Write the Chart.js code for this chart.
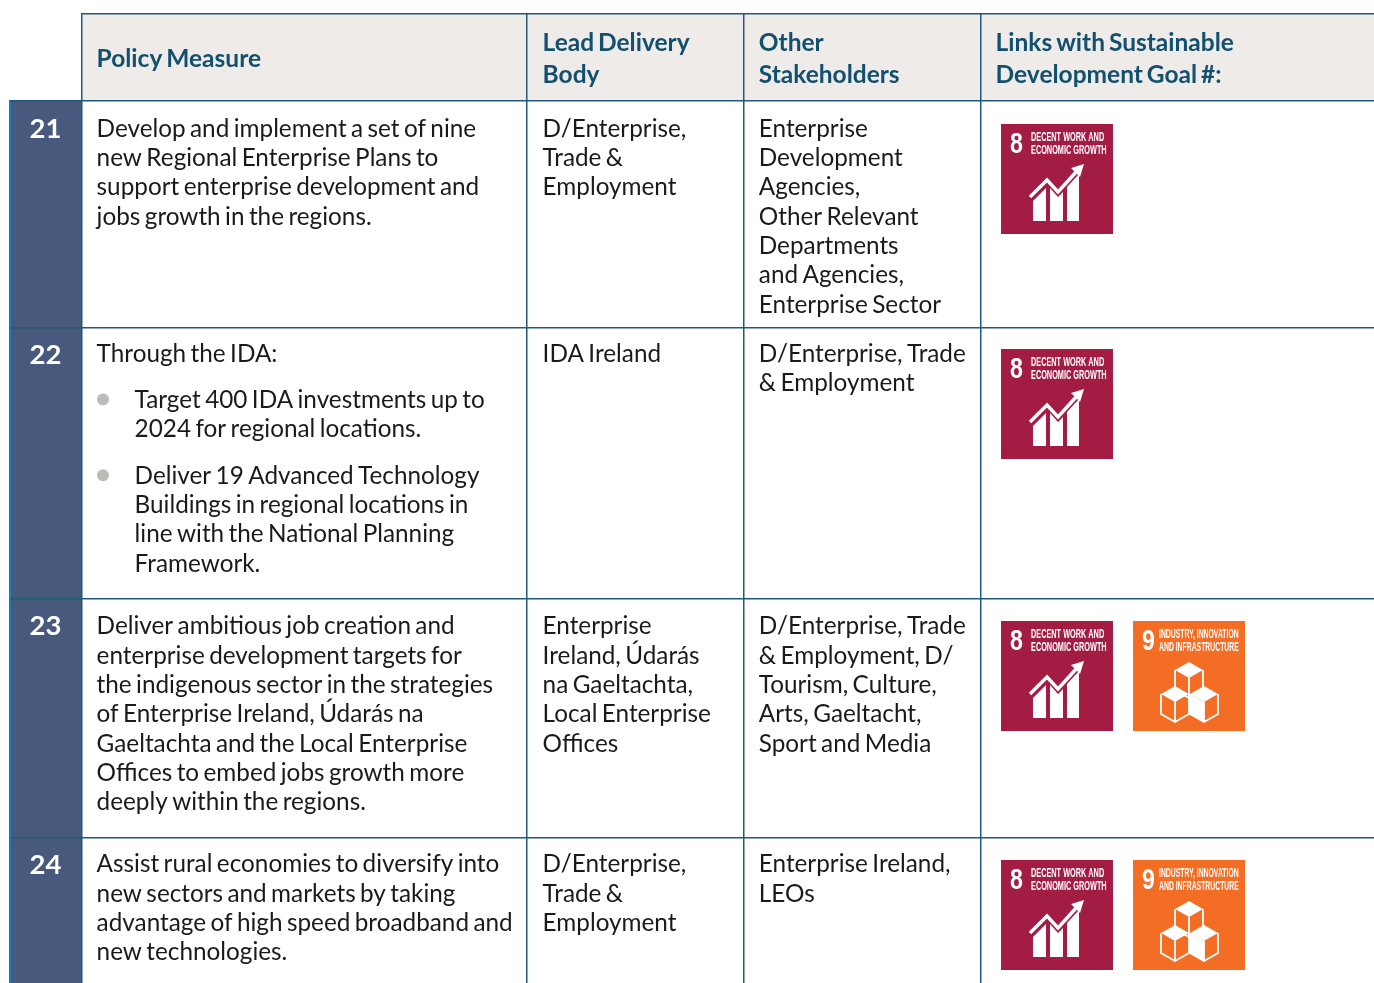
<!DOCTYPE html>
<html>
<head>
<meta charset="utf-8">
<title>Policy measures</title>
<script src="https://cdn.jsdelivr.net/npm/chart.js@4"></script>
<style>
    html, body { margin: 0; padding: 0; background: #fff; overflow: hidden; }
    canvas { display: block; }
</style>
</head>
<body>
<canvas id="tableChart" width="1374" height="983"></canvas>
<script>
// Table content
const headers = [
    ['Policy Measure'],
    ['Lead Delivery', 'Body'],
    ['Other', 'Stakeholders'],
    ['Links with Sustainable', 'Development Goal #:']
];
const rowNumbers = ['21', '22', '23', '24'];
const measures = [
    ['Develop and implement a set of nine', 'new Regional Enterprise Plans to', 'support enterprise development and', 'jobs growth in the regions.'],
    ['Through the IDA:'],
    ['Deliver ambitious job creation and', 'enterprise development targets for', 'the indigenous sector in the strategies', 'of Enterprise Ireland, Údarás na', 'Gaeltachta and the Local Enterprise', 'Offices to embed jobs growth more', 'deeply within the regions.'],
    ['Assist rural economies to diversify into', 'new sectors and markets by taking', 'advantage of high speed broadband and', 'new technologies.']
];
const measure22Bullets = [
    ['Target 400 IDA investments up to', '2024 for regional locations.'],
    ['Deliver 19 Advanced Technology', 'Buildings in regional locations in', 'line with the National Planning', 'Framework.']
];
const leadBodies = [
    ['D/Enterprise,', 'Trade &', 'Employment'],
    ['IDA Ireland'],
    ['Enterprise', 'Ireland, Údarás', 'na Gaeltachta,', 'Local Enterprise', 'Offices'],
    ['D/Enterprise,', 'Trade &', 'Employment']
];
const stakeholders = [
    ['Enterprise', 'Development', 'Agencies,', 'Other Relevant', 'Departments', 'and Agencies,', 'Enterprise Sector'],
    ['D/Enterprise, Trade', '& Employment'],
    ['D/Enterprise, Trade', '& Employment, D/', 'Tourism, Culture,', 'Arts, Gaeltacht,', 'Sport and Media'],
    ['Enterprise Ireland,', 'LEOs']
];
const goals = [[8], [8], [8, 9], [8, 9]];
const goalInfo = {
    8: { lines: ['DECENT WORK AND', 'ECONOMIC GROWTH'], color: '#a21c44' },
    9: { lines: ['INDUSTRY, INNOVATION', 'AND INFRASTRUCTURE'], color: '#f36d25' }
};

// Layout of the page, in pixels
const columnEdges = [82, 527, 744, 981];
const columnText = [96.6, 542.6, 758.8, 995.6];
const rowEdges = [100, 327, 598, 837];
const rowBaselines = [136.7, 362, 634.3, 872.3];
const numberBaselines = [138, 363.5, 635, 873.5];
const iconTops = [124, 349, 621, 860];
const bulletBaselines = [408, 483.7];
const lineHeight = 29.3;
const headLineHeight = 32;
const bodyFont = '24.3px Lato';
const headFont = 'bold 24.5px Lato';
const lineColor = '#1f5a78';
const headColor = '#12506e';

// Draw lines of text starting at one baseline
function drawLines(ctx, lines, x, baseline, step) {
    lines.forEach((line, i) => ctx.fillText(line, x, baseline + i * step));
}

// Squeezed label text for the goal icons
function narrowText(ctx, text, x, y, font, squeeze) {
    ctx.save();
    ctx.translate(x, y);
    ctx.scale(squeeze, 1);
    ctx.font = font;
    ctx.fillText(text, 0, 0);
    ctx.restore();
}

function fillShape(ctx, x, y, points) {
    ctx.beginPath();
    points.forEach((p, i) => {
        if (i === 0) {
            ctx.moveTo(x + p[0], y + p[1]);
        } else {
            ctx.lineTo(x + p[0], y + p[1]);
        }
    });
    ctx.closePath();
    ctx.fill();
}

function drawGrowthIcon(ctx, x, y) {
    ctx.fillStyle = '#fff';
    fillShape(ctx, x, y, [[32, 77], [45, 64], [45, 97], [32, 97]]);
    fillShape(ctx, x, y, [[49, 64], [57, 73], [62, 68], [62, 97], [49, 97]]);
    fillShape(ctx, x, y, [[66, 63], [78, 50], [78, 97], [66, 97]]);
    ctx.strokeStyle = '#fff';
    ctx.lineWidth = 3.5;
    ctx.beginPath();
    ctx.moveTo(x + 29, y + 73);
    ctx.lineTo(x + 46, y + 56);
    ctx.lineTo(x + 57, y + 68);
    ctx.lineTo(x + 76, y + 47);
    ctx.stroke();
    fillShape(ctx, x, y, [[83, 40], [70, 44], [79, 53]]);
}

function drawCube(ctx, x, y) {
    const w = 14, h = 8, d = 20;
    ctx.fillStyle = '#fff';
    fillShape(ctx, x, y, [[0, 0], [w, h], [0, 2 * h], [-w, h]]);
    ctx.beginPath();
    ctx.moveTo(x - w, y + h);
    ctx.lineTo(x - w, y + h + d);
    ctx.lineTo(x, y + 2 * h + d);
    ctx.lineTo(x + w, y + h + d);
    ctx.lineTo(x + w, y + h);
    ctx.moveTo(x, y + 2 * h);
    ctx.lineTo(x, y + 2 * h + d);
    ctx.stroke();
}

function drawBlocksIcon(ctx, x, y) {
    ctx.strokeStyle = '#fff';
    ctx.lineWidth = 1.8;
    drawCube(ctx, x + 56, y + 41);
    drawCube(ctx, x + 42, y + 65);
    drawCube(ctx, x + 71, y + 65);
    // shaded face of the right block
    fillShape(ctx, x, y, [[57, 73], [71, 81], [71, 101], [57, 93]]);
}

function drawGoal(ctx, goal, x, y) {
    const info = goalInfo[goal];
    const labelX = goal === 8 ? x + 30 : x + 26;
    const squeeze = goal === 8 ? 0.61 : 0.57;
    ctx.fillStyle = info.color;
    ctx.fillRect(x, y, 112, 110);
    ctx.fillStyle = '#fff';
    ctx.textAlign = 'left';
    narrowText(ctx, String(goal), x + 9, y + 29, 'bold 29px "Liberation Sans"', 0.8);
    narrowText(ctx, info.lines[0], labelX, y + 16.5, 'bold 12px "Liberation Sans"', squeeze);
    narrowText(ctx, info.lines[1], labelX, y + 30, 'bold 12px "Liberation Sans"', squeeze);
    if (goal === 8) {
        drawGrowthIcon(ctx, x, y);
    } else {
        drawBlocksIcon(ctx, x, y);
    }
}

// Draws the table cells behind the bullet dataset
const tablePlugin = {
    id: 'tablePlugin',
    beforeDatasetsDraw(chart) {
        const ctx = chart.ctx;
        const xs = chart.scales.x;
        const ys = chart.scales.y;
        const px = v => xs.getPixelForValue(v);
        const py = v => ys.getPixelForValue(v);
        const right = px(1374);
        const bottom = py(983);

        ctx.save();
        ctx.textBaseline = 'alphabetic';

        // header and number column fills
        ctx.fillStyle = '#eeebe8';
        ctx.fillRect(px(82), py(13), right - px(82), py(100) - py(13));
        ctx.fillStyle = '#47597c';
        ctx.fillRect(px(10), py(100), px(82) - px(10), bottom - py(100));
        ctx.fillStyle = '#1b7fb5';
        ctx.fillRect(px(9), py(100), 2, bottom - py(100));

        // rules
        ctx.fillStyle = lineColor;
        ctx.fillRect(px(81), py(13), right - px(81), 1.5);
        columnEdges.forEach(edge => ctx.fillRect(px(edge) - 1, py(13), 1.5, bottom - py(13)));
        rowEdges.forEach(edge => ctx.fillRect(px(10), py(edge), right - px(10), 1.5));

        // header text
        ctx.wordSpacing = '-2px';
        ctx.fillStyle = headColor;
        ctx.font = headFont;
        headers.forEach((lines, i) => {
            drawLines(ctx, lines, px(columnText[i]), lines.length === 1 ? py(67) : py(51), headLineHeight);
        });

        // row numbers
        ctx.fillStyle = '#fff';
        ctx.font = 'bold 27.5px Lato';
        ctx.textAlign = 'center';
        rowNumbers.forEach((num, i) => ctx.fillText(num, px(45.5), py(numberBaselines[i])));
        ctx.textAlign = 'left';

        // body text
        ctx.wordSpacing = '-1.8px';
        ctx.fillStyle = '#1a1a18';
        ctx.font = bodyFont;
        rowNumbers.forEach((num, i) => {
            const base = py(rowBaselines[i]);
            drawLines(ctx, measures[i], px(columnText[0]), base, lineHeight);
            drawLines(ctx, leadBodies[i], px(columnText[1]), base, lineHeight);
            drawLines(ctx, stakeholders[i], px(columnText[2]), base, lineHeight);
        });
        measure22Bullets.forEach((lines, i) => drawLines(ctx, lines, px(134.6), py(bulletBaselines[i]), lineHeight));

        // goal icons
        ctx.wordSpacing = '0px';
        goals.forEach((list, i) => {
            list.forEach((goal, j) => drawGoal(ctx, goal, px(1001 + j * 132), py(iconTops[i])));
        });
        ctx.restore();
    }
};

const tableChart = new Chart(document.getElementById('tableChart').getContext('2d'), {
    type: 'scatter',
    data: {
        datasets: [{
            label: 'Bullets',
            data: bulletBaselines.map(base => ({ x: 103, y: base - 8.5 })),
            pointRadius: 6,
            pointBackgroundColor: '#bcbdb6',
            pointBorderWidth: 0
        }]
    },
    options: {
        responsive: false,
        animation: false,
        layout: { padding: 0, autoPadding: false },
        plugins: {
            legend: { display: false },
            tooltip: { enabled: false }
        },
        scales: {
            x: { type: 'linear', display: false, min: 0, max: 1374 },
            y: { type: 'linear', display: false, min: 0, max: 983, reverse: true }
        }
    },
    plugins: [tablePlugin]
});
</script>
</body>
</html>
